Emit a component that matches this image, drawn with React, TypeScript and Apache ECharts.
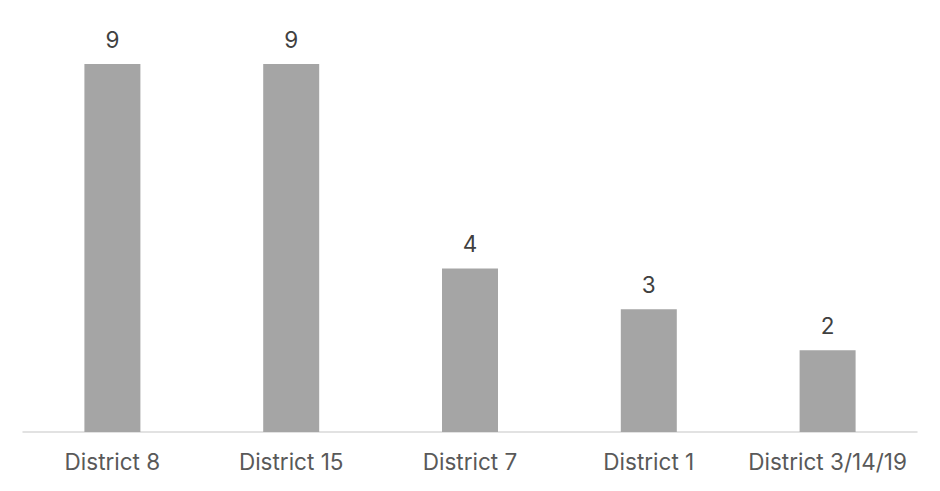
import React, { useEffect, useRef } from "react";
import * as echarts from "echarts";

const categories = ["District 8", "District 15", "District 7", "District 1", "District 3/14/19"];
const values = [9, 9, 4, 3, 2];

export default function App() {
  const ref = useRef<HTMLDivElement>(null);
  useEffect(() => {
    if (!ref.current) return;
    const chart = echarts.init(ref.current, undefined, { renderer: "svg" });
    chart.setOption({
      animation: false,
      backgroundColor: "#ffffff",
      grid: { left: 23, right: 23, top: 64, bottom: 59, containLabel: false },
      xAxis: {
        type: "category",
        data: categories,
        axisLine: { show: true, lineStyle: { color: "#d9d9d9", width: 1.5 } },
        axisTick: { show: false },
        axisLabel: { color: "#595959", fontSize: 22.5, fontFamily: "Inter", margin: 18, interval: 0 },
      },
      yAxis: {
        type: "value",
        min: 0,
        max: 9,
        show: false,
        splitLine: { show: false },
      },
      series: [
        {
          type: "bar",
          data: values,
          barWidth: 56,
          itemStyle: { color: "#a5a5a5" },
          label: {
            show: true,
            position: "top",
            distance: 13,
            color: "#404040",
            fontSize: 22.5,
            fontFamily: "Inter",
          },
        },
      ],
    });
    return () => chart.dispose();
  }, []);
  return <div ref={ref} style={{ width: 940, height: 491, margin: -8 }} />;
}
